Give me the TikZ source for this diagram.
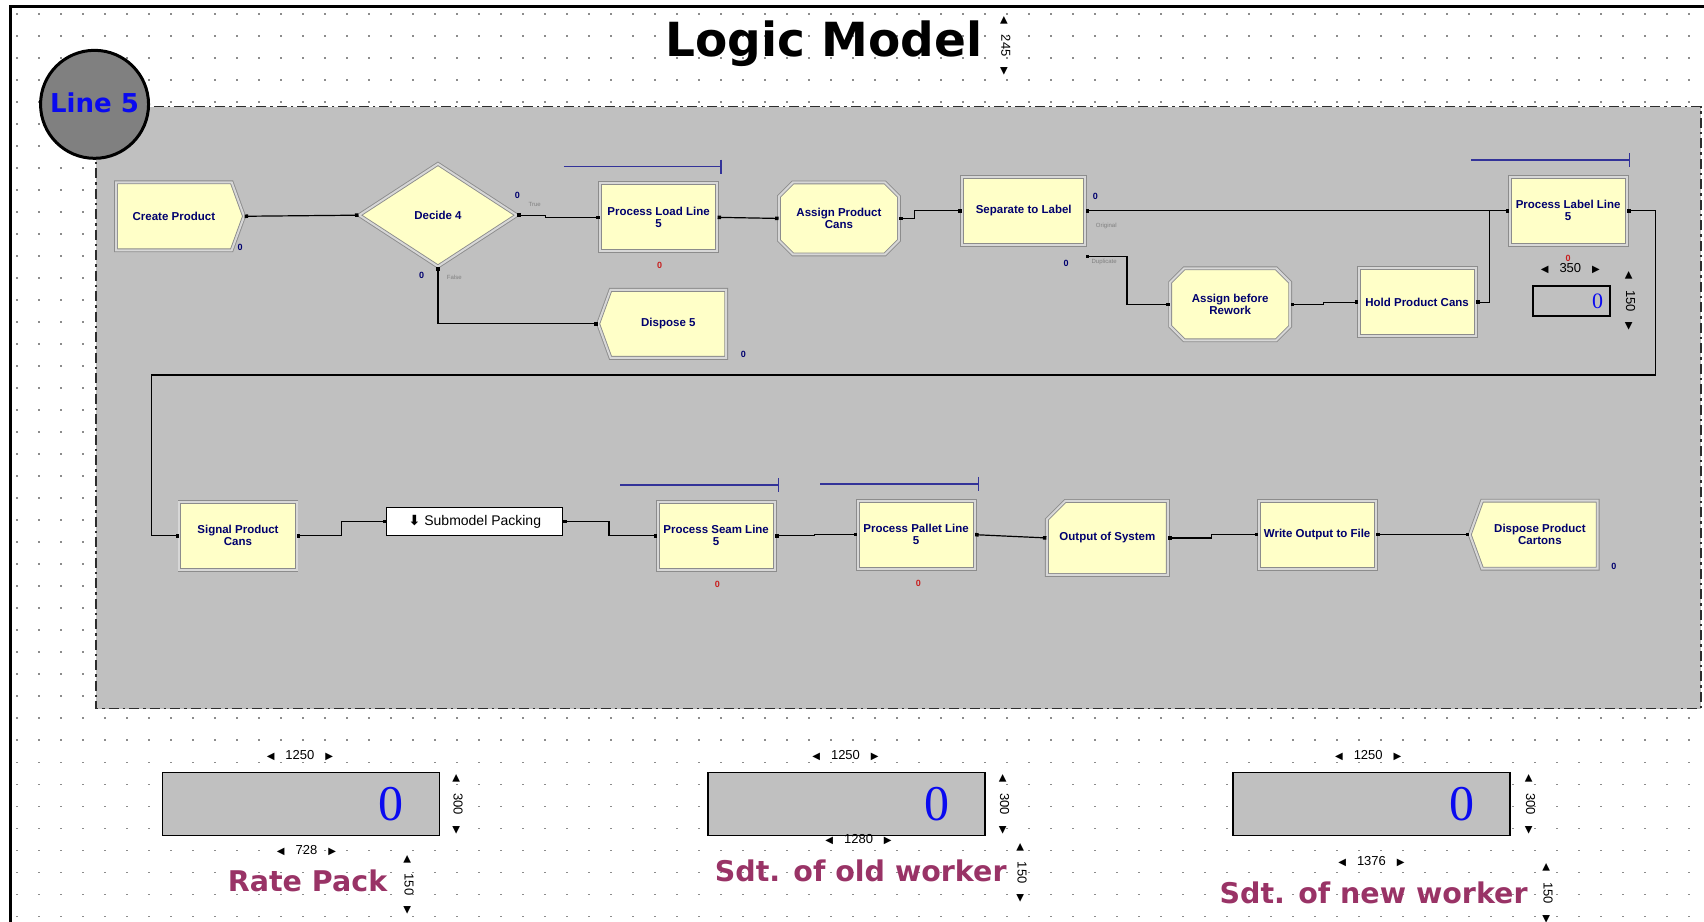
\documentclass[tikz,border=0pt]{standalone}
\usepackage{fontspec}
\setmainfont{Liberation Sans}
\newfontfamily\symfont{DejaVu Sans}
\newfontfamily\numfont{Liberation Serif}
\usetikzlibrary{shapes.geometric,shapes.misc,shapes.symbols,arrows.meta,calc}

\definecolor{modfill}{RGB}{255,255,200}
\definecolor{modedge}{RGB}{140,140,140}
\definecolor{modbevel}{RGB}{215,215,215}
\definecolor{modtext}{RGB}{0,0,110}
\definecolor{areagray}{RGB}{192,192,192}
\definecolor{areaedge}{RGB}{45,45,45}
\definecolor{gridgray}{RGB}{140,140,140}
\definecolor{resbar}{RGB}{51,51,153}
\definecolor{labelmaroon}{RGB}{153,51,102}
\definecolor{countred}{RGB}{200,30,30}
\definecolor{valblue}{RGB}{10,10,240}

\newcommand{\modfont}{\fontsize{11.5}{12}\selectfont\bfseries}
\newcommand{\dimL}{{\symfont\fontsize{10}{10}\selectfont ◀}\hspace{11pt}}
\newcommand{\dimR}{\hspace{11pt}{\symfont\fontsize{10}{10}\selectfont ▶}}

\begin{document}
\begin{tikzpicture}[
x=1.0867pt, y=-1.0867pt,
module/.style={rectangle, draw=modedge, double=modbevel, double distance=2pt, line width=0.9pt, fill=modfill, text=modtext, font=\modfont, align=center, inner sep=1pt, minimum width=117pt, minimum height=68pt},
createbox/.style={module, signal, signal to=east, signal pointer angle=140},
disposebox/.style={module, signal, signal to=west, signal pointer angle=140},
decidebox/.style={module, diamond, minimum width=158pt, minimum height=103pt},
assignbox/.style={module, chamfered rectangle, chamfered rectangle sep=7pt, minimum width=120pt, minimum height=72pt},
recordbox/.style={module, chamfered rectangle, chamfered rectangle corners=north west, chamfered rectangle sep=12pt, minimum width=121pt, minimum height=74pt},
submodel/.style={rectangle, draw=black, line width=1pt, fill=white, minimum width=176pt, minimum height=28pt, font=\fontsize{14}{14}\selectfont},
counter/.style={text=modtext, font=\fontsize{9}{9}\selectfont\bfseries, inner sep=0pt},
queuecount/.style={text=countred, font=\fontsize{9}{9}\selectfont\bfseries, inner sep=0pt},
branch/.style={text=gray, font=\fontsize{6}{6}\selectfont, inner sep=0pt},
conn/.style={draw=black, line width=1.2pt, {Square[length=3.5pt,width=3.5pt]}-{Square[length=3.5pt,width=3.5pt]}},
resource/.style={draw=resbar, line width=1.4pt, -{Bar[width=14pt,line width=1.4pt]}},
varbox/.style={rectangle, draw=black, line width=1.3pt, fill=areagray, minimum width=277pt, minimum height=63pt},
varvalue/.style={text=valblue, font=\numfont\fontsize{50}{50}\selectfont, inner sep=0pt},
varlabel/.style={text=labelmaroon, font=\symfont\bfseries\fontsize{28.5}{30}\selectfont, inner sep=0pt},
dimtext/.style={font=\fontsize{13}{13}\selectfont, inner sep=0pt},
dimv/.style={dimtext, rotate=-90}
]
\useasboundingbox (0,0) rectangle (1568,848);

% Page grid and frame
\foreach \row in {0,...,41}
  \draw[gridgray, line width=1.7pt, dash pattern=on 1.7pt off 20.3pt] (15,13+20.25*\row) -- (1568,13+20.25*\row);
\draw[line width=3pt] (10,848) |- (1568,6);

% Logic area
\draw[fill=areagray, draw=areaedge, line width=1.8pt, dash pattern=on 10pt off 4pt on 2.5pt off 4pt] (88,98) rectangle (1565,652);

% Title
\node (title) [font=\symfont\bfseries\fontsize{47}{47}\selectfont] at (758,40) {Logic Model};
\node (titledim) [dimv] at (925,42) {\dimL 245\dimR};

% Line badge
\node (linebadge) [circle, draw=black, line width=3pt, fill=gray, minimum size=108pt, inner sep=0pt, text=valblue, font=\symfont\bfseries\fontsize{26}{26}\selectfont] at (87,96) {\raisebox{4pt}{Line 5}};

% Modules, first row
\node (create) [createbox, minimum width=128pt] at (160,199) {Create Product};
\node (decide) [decidebox] at (403,198) {Decide 4};
\node (loadline) [module] at (606,200) {Process Load Line\\5};
\node (assigncans) [assignbox] at (772,201) {Assign Product\\Cans};
\node (separate) [module, minimum width=123pt] at (942,194) {Separate to Label};
\node (labelline) [module] at (1443,194) {Process Label Line\\5};
\node (dispose5) [disposebox, minimum width=128pt] at (615,298) {Dispose 5};
\node (rework) [assignbox] at (1132,280) {Assign before\\Rework};
\node (hold) [module] at (1304,278) {Hold Product Cans};

% Modules, second row
\node (signalcans) [module] at (219,493) {Signal Product\\Cans};
\node (packing) [submodel] at (437,480) {{\symfont\bfseries ⬇}\ Submodel Packing};
\node (seam) [module] at (659,493) {Process Seam Line\\5};
\node (pallet) [module] at (843,492) {Process Pallet Line\\5};
\node (output) [recordbox] at (1019,495) {Output of System};
\node (write) [module] at (1212,492) {Write Output to File};
\node (disposecart) [disposebox, minimum width=128pt] at (1417,492) {Dispose Product\\Cartons};

% Counters
\node (createcnt) [counter] at (221,228) {0};
\node (truecnt) [counter] at (476,180) {0};
\node (truelabel) [branch] at (492,188) {True};
\node (falsecnt) [counter] at (388,253) {0};
\node (falselabel) [branch] at (418,255) {False};
\node (loadq) [queuecount] at (607,244) {0};
\node (dispose5cnt) [counter] at (684,326) {0};
\node (origcnt) [counter] at (1008,181) {0};
\node (origlabel) [branch] at (1018,208) {Original};
\node (dupcnt) [counter] at (981,242) {0};
\node (duplabel) [branch] at (1016,241) {Duplicate};
\node (labelq) [queuecount] at (1443,238) {0};
\node (seamq) [queuecount] at (660,538) {0};
\node (palletq) [queuecount] at (845,537) {0};
\node (cartcnt) [counter] at (1485,521) {0};

% Resources
\draw[resource] ($(loadline.north west)+(-33,-15)$) -- ($(loadline.north east)+(4,-15)$);
\draw[resource] ($(labelline.north west)+(-35,-15)$) -- ($(labelline.north east)+(3,-15)$);
\draw[resource] ($(seam.north west)+(-34,-15)$) -- ($(seam.north east)+(4,-15)$);
\draw[resource] ($(pallet.north west)+(-34,-15)$) -- ($(pallet.north east)+(4,-15)$);

% Label line variable
\node (labeldim) [dimtext] at (1445,247) {\dimL 350\dimR};
\node (labelbox) [rectangle, draw=black, line width=1.2pt, minimum width=77pt, minimum height=30pt] at (1446,277) {};
\node (labelval) [text=valblue, font=\numfont\fontsize{22}{22}\selectfont, inner sep=0pt] at (1470,277) {0};
\node (labelvdim) [dimv] at (1500,277) {\dimL 150\dimR};

% Connectors
\draw[conn] (create.east) -- (decide.west);
\draw[conn] (decide.east) -- ++(26,0) |- (loadline.west);
\draw[conn] (decide.south) |- (dispose5.west);
\draw[conn] (loadline.east) -- (assigncans.west);
\draw[conn] (assigncans.east) -- ++(14,0) |- (separate.west);
\draw[conn] (separate.east) -- (labelline.west);
\coordinate (dupout) at ($(separate.east)+(0,42)$);
\draw[conn] (dupout) -- ++(38,0) |- (rework.west);
\draw[conn] (rework.east) -- ++(30,0) |- (hold.west);
\draw[conn] (hold.east) -- ++(12,0) |- (labelline.west);
\draw[conn] (labelline.east) -| ++(26,151) -| ($(signalcans.west)+(-25,0)$) -- (signalcans.west);
\draw[conn] (signalcans.east) -- ++(41,0) |- (packing.west);
\draw[conn] (packing.east) -- ++(42,0) |- (seam.west);
\draw[conn] (seam.east) -- ++(36,0) |- (pallet.west);
\draw[conn] (pallet.east) -- (output.west);
\draw[conn] (output.east) -- ++(40,0) |- (write.west);
\draw[conn] (write.east) -- ++(40,0) |- (disposecart.west);

% Variables
\node (ratebox) [varbox] at (277,740) {};
\node (rateval) [varvalue] at (360,740) {0};
\node (ratewdim) [dimtext] at (276,695) {\dimL 1250\dimR};
\node (ratehdim) [dimv] at (421,740) {\dimL 300\dimR};
\node (ratelwdim) [dimtext] at (282,783) {\dimL 728\dimR};
\node (ratelabel) [varlabel] at (283,811) {Rate Pack};
\node (ratelhdim) [dimv] at (376,814) {\dimL 150\dimR};

\node (oldbox) [varbox] at (779,740) {};
\node (oldval) [varvalue] at (862,740) {0};
\node (oldwdim) [dimtext] at (778,695) {\dimL 1250\dimR};
\node (oldhdim) [dimv] at (924,740) {\dimL 300\dimR};
\node (oldlwdim) [dimtext] at (790,773) {\dimL 1280\dimR};
\node (oldlabel) [varlabel] at (792,801) {Sdt. of old worker};
\node (oldlhdim) [dimv] at (940,803) {\dimL 150\dimR};

\node (newbox) [varbox] at (1262,740) {};
\node (newval) [varvalue] at (1345,740) {0};
\node (newwdim) [dimtext] at (1259,695) {\dimL 1250\dimR};
\node (newhdim) [dimv] at (1408,740) {\dimL 300\dimR};
\node (newlwdim) [dimtext] at (1262,793) {\dimL 1376\dimR};
\node (newlabel) [varlabel] at (1264,822) {Sdt. of new worker};
\node (newlhdim) [dimv] at (1424,822) {\dimL 150\dimR};

\end{tikzpicture}
\end{document}
